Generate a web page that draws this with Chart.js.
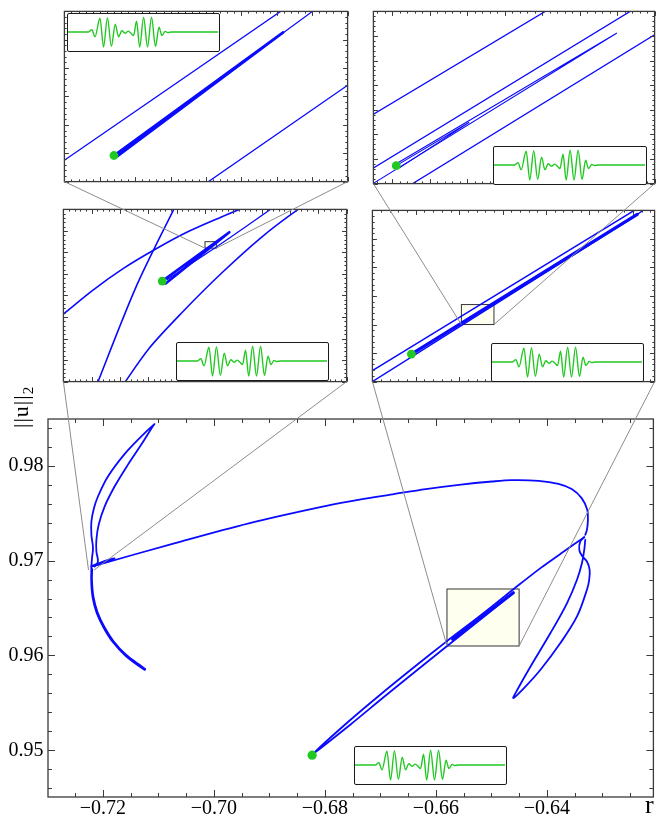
<!DOCTYPE html>
<html>
<head>
<meta charset="utf-8">
<script src="https://cdn.jsdelivr.net/npm/chart.js@4.4.0/dist/chart.umd.min.js"></script>
<style>
html, body { margin: 0; padding: 0; background: #fff; overflow: hidden; }
body { position: relative; width: 658px; height: 816px; }
canvas, .legend, .lbl { position: absolute; }
.legend { box-sizing: border-box; border: 1.3px solid #1a1a1a; border-radius: 2px; background: #fff; z-index: 3; }
.legend canvas { left: 0; top: 0; }
.lbl { font-family: 'Liberation Serif', serif; color: #000; white-space: nowrap; z-index: 4; }
#overlay { left: 0; top: 0; pointer-events: none; z-index: 5; }
</style>
</head>
<body>
<div class="lbl" id="ylab" style="left:10px;top:428px;font-size:22px;line-height:22px;transform-origin:0 0;transform:rotate(-90deg);letter-spacing:1px">||u||<sub style="font-size:15px;vertical-align:-5px">2</sub></div>
<div class="lbl" id="xlab" style="left:645px;top:792px;font-size:26px;line-height:26px">r</div>
<canvas id="overlay" width="658" height="816"></canvas>
<script>
// ---- main panel: r vs ||u||_2 ----
const rTicks = [-0.72, -0.70, -0.68, -0.66, -0.64];
const uTicks = [0.95, 0.96, 0.97, 0.98];

const hookR = [-0.72208, -0.72197, -0.72179, -0.72208, -0.72208, -0.72161, -0.72090, -0.71910, -0.71611, -0.71312, -0.71073,
               -0.71104, -0.71312, -0.71552, -0.71790, -0.71970, -0.72077, -0.72118, -0.72118, -0.72090, -0.72149];
const hookU = [0.96937, 0.97025, 0.97131, 0.97271, 0.97411, 0.97552, 0.97674, 0.97884, 0.98120, 0.98305, 0.98436,
               0.98411, 0.98218, 0.98007, 0.97779, 0.97568, 0.97376, 0.97218, 0.97095, 0.96989, 0.96937];

const tailR = [-0.72208, -0.72211, -0.72185, -0.72113, -0.71987, -0.71826, -0.71593, -0.71253,
               -0.71238, -0.71579, -0.71812, -0.71973, -0.72099, -0.72170, -0.72197, -0.72194];
const tailU = [0.96937, 0.96776, 0.96607, 0.96449, 0.96292, 0.96144, 0.95997, 0.95850,
               0.95858, 0.96005, 0.96153, 0.96300, 0.96458, 0.96616, 0.96784, 0.96913];

const spurR = [-0.72203, -0.71987, -0.71790, -0.71844, -0.72131];
const spurU = [0.96944, 0.96992, 0.97023, 0.97002, 0.96949];

const arcR = [-0.72185, -0.70715, -0.69371, -0.67973, -0.67376, -0.66778, -0.66181, -0.65584, -0.64986,
              -0.64627, -0.64150, -0.63792, -0.63552, -0.63373, -0.63272, -0.63260, -0.63278, -0.63308];
const arcU = [0.96939, 0.97181, 0.97392, 0.97576, 0.97642, 0.97697, 0.97752, 0.97797, 0.97832,
              0.97846, 0.97839, 0.97807, 0.97752, 0.97657, 0.97534, 0.97428, 0.97323, 0.97271];

const loopR = [-0.63308, -0.63326, -0.63367, -0.63457, -0.63636, -0.63935, -0.64294, -0.64532, -0.64604,
               -0.64412, -0.64115, -0.63756, -0.63457, -0.63278, -0.63237, -0.63229, -0.63278, -0.63367, -0.63416, -0.63398, -0.63326];
const loopU = [0.97218, 0.97113, 0.96973, 0.96797, 0.96552, 0.96236, 0.95884, 0.95639, 0.95552,
               0.95657, 0.95850, 0.96131, 0.96411, 0.96692, 0.96797, 0.96902, 0.96989, 0.97049, 0.97113, 0.97200, 0.97246];

const approachR = [-0.63326, -0.63695, -0.64115, -0.64502, -0.65190, -0.65805, -0.66384, -0.66982, -0.67579, -0.68224,
                   -0.67543, -0.66943, -0.66342, -0.65769, -0.65159, -0.64622];
const approachU = [0.97246, 0.97095, 0.96920, 0.96744, 0.96423, 0.96149, 0.95881, 0.95597, 0.95302, 0.94960,
                   0.95271, 0.95560, 0.95844, 0.96113, 0.96397, 0.96649];

const bundleR = [-0.65697, -0.64604];
const bundleU = [0.96171, 0.96660];

const mainDot = [-0.6823, 0.9495];

// ---- zoom windows (axis ranges of the insets) ----
const mrRange = { r: [-0.658, -0.645], u: [0.961, 0.967] };
const trRange = { r: [-0.6539, -0.6524], u: [0.9630, 0.9637] };
const mlRange = { r: [-0.7226, -0.7216], u: [0.9690, 0.9698] };
const tlRange = { r: [-0.72210, -0.72206], u: [0.96962, 0.96965] };

// middle-left inset
const mlArcR = [-0.722638, -0.722600, -0.722499, -0.722388, -0.722274, -0.722159, -0.722042, -0.721944];
const mlArcU = [0.969268, 0.969313, 0.969422, 0.969526, 0.969616, 0.969697, 0.969765, 0.969819];
const mlSteepR = [-0.722492, -0.722343, -0.722198];
const mlSteepU = [0.968952, 0.969441, 0.969833];
const mlLowArcR = [-0.722395, -0.722297, -0.722181, -0.722043, -0.721904, -0.721771, -0.721719];
const mlLowArcU = [0.968974, 0.969155, 0.969321, 0.969502, 0.969667, 0.969800, 0.969838];
const mlCrossR = [-0.721858, -0.722060, -0.722233];
const mlCrossU = [0.969810, 0.969625, 0.969475];
const mlBundleR = [-0.722251, -0.722014, -0.722239];
const mlBundleU = [0.969467, 0.969694, 0.969456];
const mlDot = [-0.722251, 0.969467];

// middle-right inset
const mrLineAR = [-0.658466, -0.645348];
const mrLineAU = [0.961164, 0.967273];
const mrLineCR = [-0.658466, -0.645801];
const mrLineCU = [0.960779, 0.966840];
const mrBundleR = [-0.656205, -0.645801];
const mrBundleU = [0.961965, 0.966857];
const mrExitR = [-0.645801, -0.644805];
const mrExitU = [0.966857, 0.967385];
const mrDot = [-0.656205, 0.961965];

// top-right inset
const trLine1R = [-0.653958, -0.652911];
const trLine1U = [0.963255, 0.963733];
const trLine2R = [-0.653958, -0.652466];
const trLine2U = [0.963036, 0.963730];
const trLine4R = [-0.653748, -0.652336];
const trLine4U = [0.962973, 0.963635];
const trLoopR = [-0.653958, -0.652603, -0.653778];
const trLoopU = [0.962974, 0.963611, 0.963081];
const trSpikeR = [-0.653778, -0.653391, -0.653759];
const trSpikeU = [0.963073, 0.963248, 0.963065];
const trDot = [-0.653778, 0.963073];

// top-left inset
const tlLine1R = [-0.7221016, -0.7220676];
const tlLine1U = [0.9696224, 0.9696516];
const tlLine2R = [-0.7220815, -0.7220586];
const tlLine2U = [0.9696184, 0.9696382];
const tlLine3R = [-0.7220642, -0.7220919];
const tlLine3U = [0.9696507, 0.9696254];
const tlBundleR = [-0.7220930, -0.7220691, -0.7220926];
const tlBundleU = [0.9696246, 0.9696463, 0.9696244];
const tlDot = [-0.7220930, 0.9696246];

// wave profile shown in the small boxes
const waveX = [0, 12.6, 13.7, 15.9, 18.0, 21.3, 23.7, 26.3, 28.9, 31.5, 33.7, 35.9, 38.0, 40.2, 42.0,
               43.7, 45.7, 47.8, 50.4, 53.0, 55.7, 58.3, 60.7, 62.6, 64.8, 66.5, 69.1, 100];
const waveY = [0, 0, 0, 0.16, -0.32, 0.92, -1.0, 0.96, -0.96, 0.52, -0.32, 0.08, -0.08, 0.06, -0.08,
               -0.24, 0.72, -1.0, 0.98, -1.0, 0.98, -0.96, 0.32, -0.24, 0.04, -0.04, 0, 0];

const BLUE = '#0a0aff';
const GREEN = '#22c822';
const SERIF = "'Liberation Serif', 'Times New Roman', serif";

function pts(rs, us) { return rs.map((r, i) => ({ x: r, y: us[i] })); }
function curve(rs, us, width, tension) {
  return { data: pts(rs, us), showLine: true, borderColor: BLUE, borderWidth: width, pointRadius: 0,
           tension: tension, borderCapStyle: 'round', borderJoinStyle: 'round' };
}
function dot(p, radius) {
  return { data: [{ x: p[0], y: p[1] }], showLine: false, pointRadius: radius, pointBackgroundColor: GREEN,
           pointBorderWidth: 0, clip: false };
}

function steps(min, max, major, sub) {
  const s = major / sub, out = [];
  for (let n = Math.ceil(min / s - 1e-6); n <= Math.floor(max / s + 1e-6); n++) {
    out.push({ v: n * s, major: Math.abs(n) % sub === 0 });
  }
  return out;
}

function frame(cfg) {
  return {
    id: 'frame',
    beforeDatasetsDraw(chart) {
      if (!cfg.box) return;
      const { ctx, scales: { x, y } } = chart;
      const x0 = x.getPixelForValue(cfg.box.r[0]), x1 = x.getPixelForValue(cfg.box.r[1]);
      const y0 = y.getPixelForValue(cfg.box.u[0]), y1 = y.getPixelForValue(cfg.box.u[1]);
      ctx.save();
      ctx.fillStyle = '#fffff0';
      ctx.fillRect(x0, y1, x1 - x0, y0 - y1);
      ctx.strokeStyle = '#333';
      ctx.lineWidth = 1;
      ctx.strokeRect(x0, y1, x1 - x0, y0 - y1);
      ctx.restore();
    },
    afterDraw(chart) {
      const { ctx, chartArea: a, scales: { x, y } } = chart;
      ctx.save();
      ctx.strokeStyle = '#3a3a3a';
      ctx.lineWidth = 1;
      ctx.beginPath();
      steps(x.min, x.max, cfg.xStep, cfg.xSub).forEach(t => {
        const p = Math.round(x.getPixelForValue(t.v)) + 0.5;
        const L = t.major ? cfg.major : cfg.minor;
        ctx.moveTo(p, a.bottom); ctx.lineTo(p, a.bottom - L);
        ctx.moveTo(p, a.top); ctx.lineTo(p, a.top + L);
      });
      steps(y.min, y.max, cfg.yStep, cfg.ySub).forEach(t => {
        const p = Math.round(y.getPixelForValue(t.v)) + 0.5;
        const L = t.major ? cfg.major : cfg.minor;
        ctx.moveTo(a.left, p); ctx.lineTo(a.left + L, p);
        ctx.moveTo(a.right, p); ctx.lineTo(a.right - L, p);
      });
      ctx.stroke();
      ctx.lineWidth = 1.3;
      ctx.strokeRect(a.left, a.top, a.right - a.left, a.bottom - a.top);
      ctx.restore();
    }
  };
}

function addCanvas(left, top, w, h, parent) {
  const c = document.createElement('canvas');
  c.width = w; c.height = h;
  c.style.left = left + 'px'; c.style.top = top + 'px';
  (parent || document.body).appendChild(c);
  return c;
}

const baseOpts = { animation: false, responsive: false, events: [],
                   plugins: { legend: { display: false }, tooltip: { enabled: false } } };

// inset: frame rect in page pixels, axis ranges, datasets
function inset(rect, range, datasets, ticks, box) {
  const m = 2;
  const c = addCanvas(rect[0] - m, rect[1] - m, rect[2] - rect[0] + 2 * m, rect[3] - rect[1] + 2 * m);
  const chart = new Chart(c, {
    type: 'scatter',
    data: { datasets },
    options: Object.assign({}, baseOpts, {
      layout: { padding: m },
      scales: {
        x: { type: 'linear', display: false, min: range.r[0], max: range.r[1] },
        y: { type: 'linear', display: false, min: range.u[0], max: range.u[1] }
      }
    }),
    plugins: [frame(Object.assign({ major: 4.5, minor: 2.2, box }, ticks))]
  });
  chart.pageLeft = rect[0] - m; chart.pageTop = rect[1] - m;
  return chart;
}

function waveBox(left, top, w, h) {
  const d = document.createElement('div');
  d.className = 'legend';
  d.style.left = left + 'px'; d.style.top = top + 'px';
  d.style.width = w + 'px'; d.style.height = h + 'px';
  document.body.appendChild(d);
  const c = addCanvas(0, 0, w - 3, h - 3, d);
  new Chart(c, {
    type: 'scatter',
    data: { datasets: [{ data: pts(waveX, waveY), showLine: true, borderColor: GREEN, borderWidth: 1.4,
                         pointRadius: 0, cubicInterpolationMode: 'monotone' }] },
    options: Object.assign({}, baseOpts, {
      layout: { padding: 0 },
      scales: { x: { display: false, min: 0, max: 100 }, y: { display: false, min: -1.2, max: 1.2 } }
    })
  });
}

// ---- main chart ----
const fmt = v => (v < 0 ? '\u2212' : '') + Math.abs(v).toFixed(2);
const mainCanvas = addCanvas(0, 400, 658, 416);
const main = new Chart(mainCanvas, {
  type: 'scatter',
  data: {
    datasets: [
      dot(mainDot, 4.6),
      curve(bundleR, bundleU, 3.2, 0),
      curve(approachR, approachU, 1.8, 0.25),
      curve(loopR, loopU, 1.8, 0.35),
      curve(arcR, arcU, 1.8, 0.35),
      curve(spurR, spurU, 1.6, 0.2),
      curve(tailR, tailU, 1.8, 0.35),
      curve(hookR, hookU, 1.8, 0.35)
    ]
  },
  options: Object.assign({}, baseOpts, {
    layout: { padding: { top: 19, right: 1, left: 0, bottom: 0 } },
    scales: {
      x: {
        type: 'linear', min: -0.7299, max: -0.6208,
        afterBuildTicks: s => { s.ticks = rTicks.map(v => ({ value: v })); },
        afterFit: s => { s.height = 19; },
        grid: { display: false, drawTicks: false }, border: { display: false },
        ticks: { padding: 0, color: '#000', font: { family: SERIF, size: 20 }, autoSkip: false, maxRotation: 0, callback: v => fmt(v) }
      },
      y: {
        type: 'linear', min: 0.9451, max: 0.9849,
        afterBuildTicks: s => { s.ticks = uTicks.map(v => ({ value: v })); },
        afterFit: s => { s.width = 48; },
        grid: { display: false, drawTicks: false }, border: { display: false },
        ticks: { padding: 4.5, color: '#000', font: { family: SERIF, size: 20 }, callback: v => v.toFixed(2) }
      }
    }
  }),
  plugins: [frame({ xStep: 0.02, xSub: 4, yStep: 0.01, ySub: 5, major: 7, minor: 4, box: mrRange })]
});
main.pageLeft = 0; main.pageTop = 400;

// ---- insets ----
const ml = inset([61, 207, 349, 384], mlRange, [
  dot(mlDot, 4.4),
  curve(mlBundleR, mlBundleU, 2.6, 0),
  curve(mlArcR, mlArcU, 1.6, 0.3),
  curve(mlSteepR, mlSteepU, 1.6, 0.3),
  curve(mlLowArcR, mlLowArcU, 1.6, 0.3),
  curve(mlCrossR, mlCrossU, 1.3, 0.2)
], { xStep: 0.0001, xSub: 5, yStep: 0.0001, ySub: 5 }, tlRange);

const mr = inset([370, 208, 657, 384], mrRange, [
  dot(mrDot, 4.4),
  curve(mrBundleR, mrBundleU, 3.2, 0),
  curve(mrExitR, mrExitU, 1.4, 0),
  curve(mrLineAR, mrLineAU, 1.5, 0),
  curve(mrLineCR, mrLineCU, 1.5, 0)
], { xStep: 0.002, xSub: 5, yStep: 0.001, ySub: 5 }, trRange);

const tl = inset([62, 9, 350, 184], tlRange, [
  dot(tlDot, 4.4),
  curve(tlBundleR, tlBundleU, 2.6, 0),
  curve(tlLine3R, tlLine3U, 1.2, 0),
  curve(tlLine1R, tlLine1U, 1.3, 0),
  curve(tlLine2R, tlLine2U, 1.3, 0)
], { xStep: 0.000005, xSub: 5, yStep: 0.000005, ySub: 5 });

const tr = inset([371, 9, 657, 186], trRange, [
  dot(trDot, 4.4),
  curve(trSpikeR, trSpikeU, 1.1, 0),
  curve(trLoopR, trLoopU, 1.1, 0),
  curve(trLine1R, trLine1U, 1.3, 0),
  curve(trLine2R, trLine2U, 1.3, 0),
  curve(trLine4R, trLine4U, 1.3, 0)
], { xStep: 0.0002, xSub: 5, yStep: 0.0001, ySub: 5 });

// ---- wave boxes ----
waveBox(354, 746, 153, 39);
waveBox(67, 13, 153, 39);
waveBox(493, 146, 154, 39);
waveBox(176, 342, 153, 39);
waveBox(491, 343, 153, 39);

// ---- zoom connector lines ----
const links = [[main, mrRange, mr], [main, mlRange, ml], [ml, tlRange, tl], [mr, trRange, tr]];
const octx = document.getElementById('overlay').getContext('2d');
octx.strokeStyle = '#8c8c8c';
octx.lineWidth = 1;
octx.beginPath();
links.forEach(([src, range, dst]) => {
  const a = dst.chartArea;
  const corners = [[range.r[0], a.left], [range.r[1], a.right]];
  corners.forEach(([r, dx]) => {
    octx.moveTo(src.pageLeft + src.scales.x.getPixelForValue(r), src.pageTop + src.scales.y.getPixelForValue(range.u[0]));
    octx.lineTo(dst.pageLeft + dx, dst.pageTop + a.bottom);
  });
});
octx.stroke();
</script>
</body>
</html>
